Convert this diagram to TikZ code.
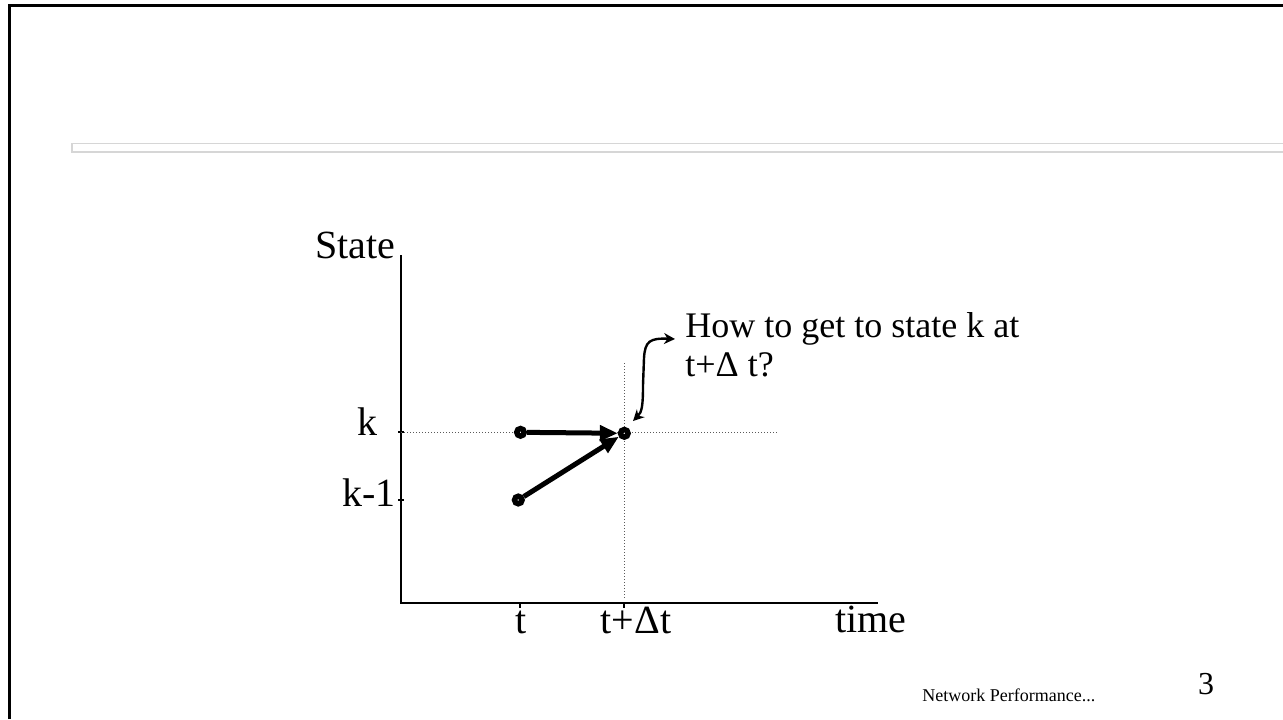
\documentclass[tikz,border=0pt]{standalone}
\usepackage{fontspec}
\setmainfont{Liberation Serif}
\usetikzlibrary{arrows.meta,positioning,calc}
\definecolor{barcol}{RGB}{214,214,214}
\definecolor{gridcol}{RGB}{90,90,90}

\begin{document}
\begin{tikzpicture}[x=0.5pt,y=-0.5pt,>=Stealth,
  lbl/.style={font=\fontsize{20}{24}\selectfont,inner sep=0pt},
  dot/.style={circle,draw,line width=2.75pt,fill=white,minimum size=3.75pt,inner sep=0pt},
  bigarrow/.style={-{Triangle[length=9pt,width=7.5pt]},line width=2.5pt},
  guide/.style={gridcol,densely dotted,line width=0.5pt}]
  \useasboundingbox (0,0) rectangle (1283,719);
  % slide frame and title bar
  \draw[line width=1.5pt] (9,719) -- (9,5.5) -- (1283,5.5);
  \draw[barcol,line width=0.7pt,fill=white] (72,143.5) rectangle (1290,152);
  % axes
  \coordinate (O) at (401,603);
  \coordinate (ytop) at (401,255);
  \coordinate (xend) at (878,603);
  \draw[line width=1.1pt] (ytop) |- (xend);
  \node[lbl,anchor=base east] (state) at (396,258) {State};
  \node[lbl,anchor=south] (time) at (871,633) {time};
  % ticks and labels
  \coordinate (tk) at (401,432);
  \coordinate (tkm) at (401,500);
  \coordinate (tt) at (520,603);
  \coordinate (ttd) at (624,603);
  \foreach \c in {tk,tkm} \draw[line width=1.4pt] ($(\c)+(-3,0)$) -- ($(\c)+(3,0)$);
  \foreach \c in {tt,ttd} \draw[line width=1.4pt] (\c) -- ($(\c)+(0,5)$);
  \node[lbl,anchor=base east] (k) at (378,435) {k};
  \node[lbl,anchor=base east] (km) at (396,506) {k-1};
  \node[lbl,anchor=base] (t) at (521,633) {t};
  \node[lbl,anchor=base] (tdt) at (636,633) {t+Δt};
  % dotted guides
  \draw[guide] (tk) -- (777,432);
  \draw[guide] (624,363) -- (624,598);
  % states and transitions
  \node[dot] (sk) at (520.5,432.3) {};
  \node[dot] (skm) at (518.3,500) {};
  \node[dot] (end) at (624.3,433.3) {};
  \draw[bigarrow] (sk) -- (end);
  \draw[bigarrow] (skm) -- (end);
  % question
  \node[font=\fontsize{18}{19.5}\selectfont,inner sep=0pt,anchor=base west,align=left] (q) at (685,376)
     {How to get to state k at\\t+Δ t?};
  \coordinate (hook) at (633,421);
  \coordinate (ctip) at (675,339);
  \draw[{Stealth[length=5.5pt,width=5.5pt]}-{Stealth[length=5.5pt,width=5.5pt]},line width=1.2pt]
     (hook) .. controls (642,412) and (643,405) .. (643,385) -- (644,358)
     .. controls (645,341) and (650,338) .. (ctip);
  % footer
  \node[font=\fontsize{9}{11}\selectfont,inner sep=0pt,anchor=base west] (foot) at (922,701) {Network Performance...};
  \node[font=\fontsize{16}{19}\selectfont,inner sep=0pt,anchor=base] (pg) at (1206,694) {3};
\end{tikzpicture}
\end{document}
